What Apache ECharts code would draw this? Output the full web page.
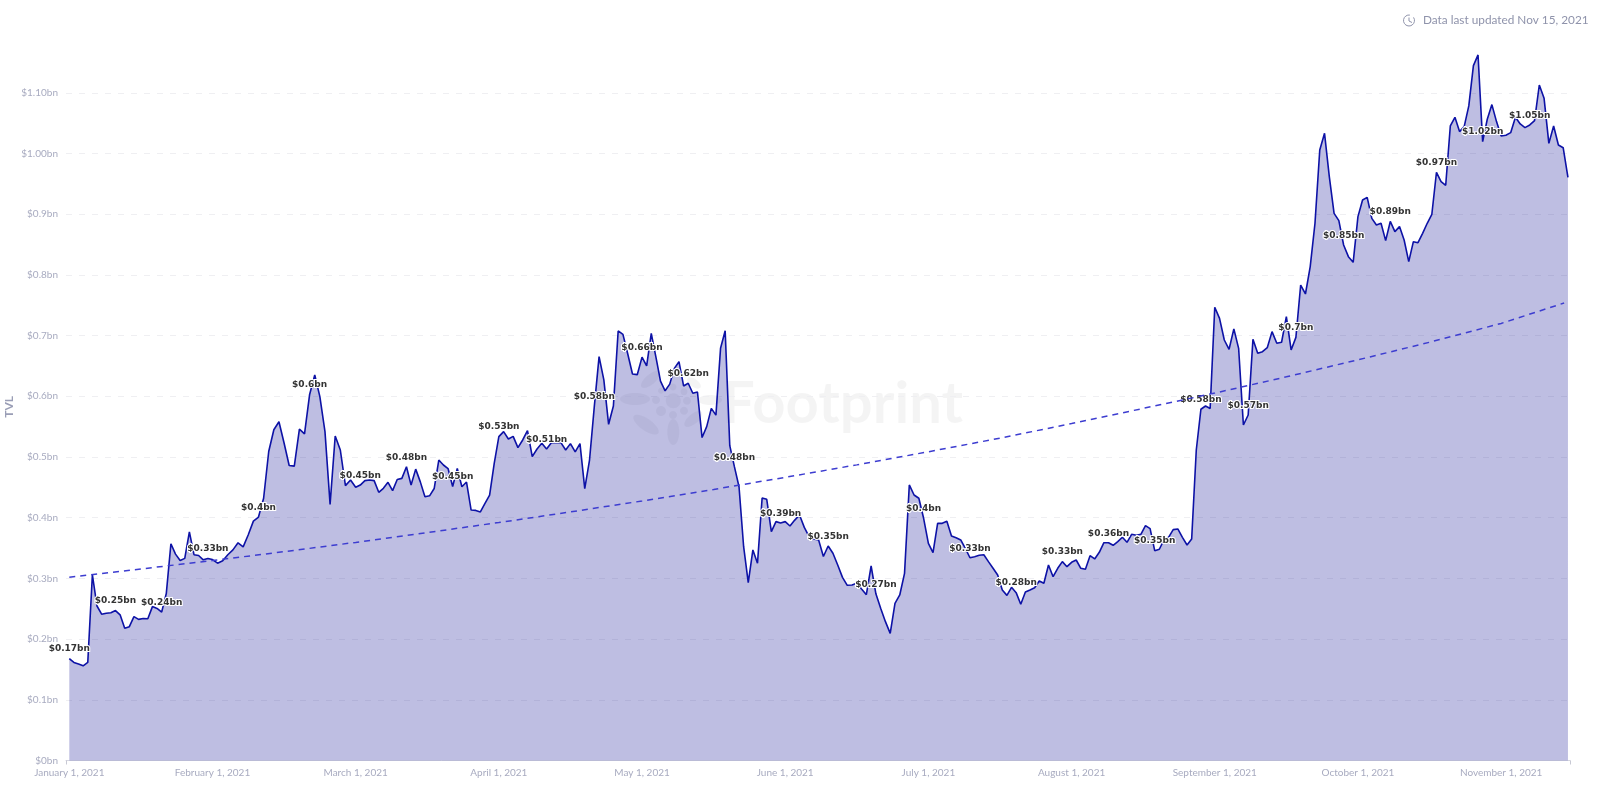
<!DOCTYPE html>
<html>
<head>
<meta charset="utf-8">
<style>html,body{margin:0;padding:0;background:#fff}#c{width:1600px;height:786px}</style>
<script src="https://cdn.jsdelivr.net/npm/echarts@6/dist/echarts.min.js"></script>
</head>
<body>
<div id="c"></div>
<script>
// Daily TVL (US$ bn), one list per month of 2021
const tvlJan = [.168,.1615,.159,.156,.1615,.306,.2545,.241,.2425,.2435,.247,.24,.218,.2205,.237,.2325,.234,.2335,.2535,.2505,.2445,.275,.357,.34,.3295,.333,.3767,.339,.3377,.3306,.3328];
const tvlFeb = [.331,.325,.329,.339,.347,.3586,.352,.3718,.3943,.401,.432,.509,.5448,.558,.523,.486,.485,.546,.538,.603,.635,.5994,.5417,.422,.5346,.5115,.4528,.462];
const tvlMar = [.45,.4537,.461,.462,.461,.4418,.4484,.4583,.4445,.463,.4648,.484,.4537,.48,.459,.4346,.436,.448,.495,.4868,.481,.4513,.481,.451,.4587,.4126,.412,.4094,.4236,.4373,.4895];
const tvlApr = [.5335,.5417,.5296,.534,.5154,.528,.5433,.5006,.5132,.5225,.5132,.5236,.5236,.5236,.5115,.522,.5083,.522,.4479,.495,.583,.6653,.627,.5538,.584,.7076,.702,.67,.6367,.6356];
const tvlMay = [.6645,.65,.7037,.665,.625,.609,.62,.646,.657,.617,.6214,.605,.607,.532,.55,.58,.569,.679,.708,.5186,.484,.451,.3522,.293,.3468,.325,.4325,.4303,.377,.3935,.3913];
const tvlJun = [.3935,.3863,.396,.4045,.384,.3687,.365,.3633,.336,.3534,.3414,.322,.3017,.2886,.289,.2919,.2825,.2732,.3204,.2745,.2507,.2287,.2095,.2589,.2727,.3083,.4539,.4374,.432,.399];
const tvlJul = [.3578,.3424,.3907,.3907,.394,.37,.367,.3633,.3496,.334,.3358,.338,.339,.3276,.3166,.3056,.281,.272,.2853,.2765,.2573,.2776,.281,.2847,.2957,.2919,.322,.3028,.3166,.3276,.3193];
const tvlAug = [.3265,.3303,.3166,.315,.3374,.332,.343,.3588,.3588,.3545,.3605,.3677,.3594,.3726,.371,.3726,.3869,.382,.3457,.348,.3633,.3677,.3803,.3814,.3677,.355,.365,.5115,.5786,.584,.58];
const tvlSep = [.7466,.7284,.6927,.6774,.711,.679,.5527,.5692,.6938,.6708,.6735,.68,.7065,.6873,.689,.7312,.6763,.697,.7833,.7685,.8136,.885,1.0058,1.0332,.9618,.9014,.8893,.8492,.83,.8207];
const tvlOct = [.8959,.9233,.9277,.8931,.8822,.885,.8564,.888,.8712,.8795,.8575,.8218,.8547,.853,.8684,.885,.8998,.969,.9537,.9476,1.0453,1.0596,1.036,1.0442,1.0783,1.1447,1.1623,1.0195,1.0563,1.0805,1.0525];
const tvlNov = [1.0289,1.03,1.0343,1.0596,1.0486,1.0426,1.047,1.054,1.1128,1.0908,1.0166,1.0453,1.014,1.0095,.9607];
const tvlByMonth = [tvlJan,tvlFeb,tvlMar,tvlApr,tvlMay,tvlJun,tvlJul,tvlAug,tvlSep,tvlOct,tvlNov];
const daysInMonth = [31,28,31,30,31,30,31,31,30,31,30];

// Dashed trend line, read at a few dates: position in months, value in US$ bn
const trendMonths = [0,.5,1,1.5,2,2.5,3,3.5,4,4.5,5,5.5,6,6.5,7,7.5,8,8.5,9,9.5,10,10.44];
const trendValues = [.302,.3155,.3294,.344,.3593,.3755,.392,.4095,.4275,.4465,.4665,.487,.5086,.531,.555,.58,.6053,.632,.66,.689,.72,.7537];

const monthLabels = ['January 1, 2021','February 1, 2021','March 1, 2021','April 1, 2021','May 1, 2021','June 1, 2021','July 1, 2021','August 1, 2021','September 1, 2021','October 1, 2021','November 1, 2021'];
const yTickValues = [0,.1,.2,.3,.4,.5,.6,.7,.8,.9,1,1.1];
const yTickLabels = ['$0bn','$0.1bn','$0.2bn','$0.3bn','$0.4bn','$0.5bn','$0.6bn','$0.7bn','$0.8bn','$0.9bn','$1.00bn','$1.10bn'];
const labelEvery = 10;

// The chart's time scale gives every month the same width
const tvlPoints = [];
tvlByMonth.forEach((vals,m)=>vals.forEach((v,d)=>tvlPoints.push([m+d/daysInMonth[m],v])));
const monthTicks = monthLabels.map((_,i)=>i);

const wm = 'rgba(0,0,0,0.045)';
const ell = (x,y,rx,ry,deg)=>({type:'ellipse',x,y,rotation:-(deg||0)*Math.PI/180,shape:{cx:0,cy:0,rx,ry},style:{fill:wm},silent:true,z:0});
const cir = (x,y,r)=>ell(x,y,r,r,0);

const chart = echarts.init(document.getElementById('c'),null,{renderer:'canvas'});
chart.setOption({
  animation:false,
  backgroundColor:'#fff',
  grid:{left:66,right:30,top:53.3,bottom:25.5,containLabel:false,outerBoundsMode:'none'},
  xAxis:{
    type:'value',min:-0.023,max:10.481,
    splitLine:{show:false},
    axisLine:{show:true,lineStyle:{color:'#d5d6e0',width:1}},
    axisTick:{show:true,length:4,lineStyle:{color:'#c8c9d4'},customValues:[-0.023,10.481]},
    axisLabel:{customValues:monthTicks,formatter:v=>monthLabels[Math.round(v)],color:'#a8abc0',fontFamily:'Lato',fontSize:10,margin:7,hideOverlap:false}
  },
  yAxis:{
    type:'value',min:0,max:1.165,
    name:'TVL',nameLocation:'middle',nameGap:51,nameRotate:90,nameMoveOverlap:false,
    nameTextStyle:{color:'#9a9eb6',fontFamily:'Lato',fontWeight:'bold',fontSize:12},
    axisLine:{show:false},axisTick:{show:false},
    splitLine:{show:true,showMinLine:false,showMaxLine:false,lineStyle:{color:'#efeff2',type:[6,7],width:1}},
    axisLabel:{customValues:yTickValues,formatter:v=>yTickLabels[Math.round(v*10)],color:'#a8abc0',fontFamily:'Lato',fontSize:10,margin:8},
    interval:0.1
  },
  graphic:[
    cir(673.3,400.7,7.5),ell(635,399,15,6,0),ell(650.7,379.3,12,5,-40),ell(646,424.7,15,6,35),ell(673.3,432,6,13,0),ell(693.3,419,11,5,-40),
    cir(656,400,4),cir(661,411,5),cir(673,415,4),cir(684,410.7,4),cir(687,400.7,4),cir(684,391.7,3.5),cir(673,387,3.5),cir(661,390.7,3),
    ell(694,383,8,4,35),ell(710,400,12,5,0),
    {type:'text',x:722,y:404,silent:true,z:0,style:{text:'Footprint',fill:wm,font:'bold 58px Lato',verticalAlign:'middle'}},
    {type:'text',x:1423,y:20.5,silent:true,style:{text:'Data last updated Nov 15, 2021',fill:'#8f93ab',font:'11.8px Lato',verticalAlign:'middle'}},
    {type:'arc',silent:true,shape:{cx:1409,cy:20.5,r:5.5,startAngle:-0.6,endAngle:Math.PI*1.55},style:{stroke:'#8f93ab',fill:'none',lineWidth:1}},
    {type:'polyline',silent:true,shape:{points:[[1409,17.5],[1409,21],[1412,22.5]]},style:{stroke:'#8f93ab',fill:'none',lineWidth:1}}
  ],
  series:[
    {
      name:'TVL',type:'line',data:tvlPoints,
      symbol:'circle',symbolSize:0,showSymbol:true,showAllSymbol:true,
      lineStyle:{color:'#0d12a6',width:1.6},
      itemStyle:{color:'#0d12a6'},
      areaStyle:{color:'rgba(20,20,150,0.28)',opacity:1,origin:'start'},
      z:2,
      label:{show:true,position:'top',distance:5,color:'#333',fontFamily:'DejaVu Sans',fontSize:9,fontWeight:'bold',textBorderColor:'#fff',textBorderWidth:2,
        formatter:p=>p.dataIndex%labelEvery===0?'$'+(+p.value[1].toFixed(2))+'bn':''}
    },
    {
      name:'Trend',type:'line',data:trendMonths.map((m,i)=>[m,trendValues[i]]),
      symbol:'none',smooth:false,
      lineStyle:{color:'#3d3dd0',width:1.5,type:[6,5]},
      z:3
    }
  ]
});
</script>
</body>
</html>
